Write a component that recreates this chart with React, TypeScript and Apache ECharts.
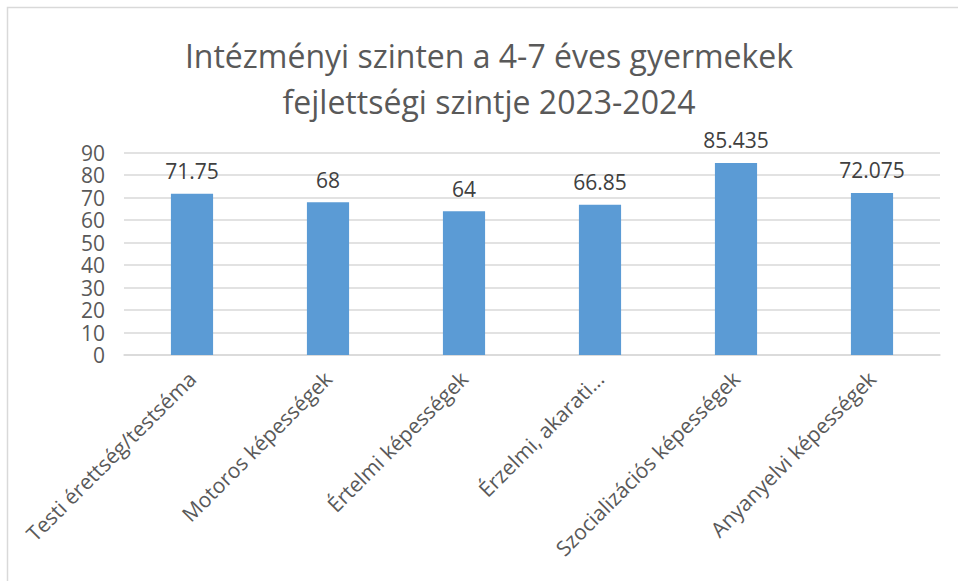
import React, { useEffect, useRef } from "react";
import * as echarts from "echarts";

const categories = [
  "Testi érettség/testséma",
  "Motoros képességek",
  "Értelmi képességek",
  "Érzelmi, akarati...",
  "Szocializációs képességek",
  "Anyanyelvi képességek",
];
const values = [71.75, 68, 64, 66.85, 85.435, 72.075];
const titleLines = ["Intézményi szinten a 4-7 éves gyermekek", "fejlettségi szintje 2023-2024"];
const yMin = 0;
const yMax = 90;
const yStep = 10;

const FONT = "'Open Sans', sans-serif";

export default function App() {
  const ref = useRef<HTMLDivElement>(null);
  useEffect(() => {
    document.body.style.margin = "0";
    document.body.style.overflow = "hidden";
    const chart = echarts.init(ref.current!, undefined, { renderer: "svg" });
    chart.setOption({
      animation: false,
      backgroundColor: "#ffffff",
      textStyle: { fontFamily: FONT },
      graphic: [
        {
          type: "rect",
          shape: { x: 7.5, y: 7.5, width: 1000, height: 1000 },
          style: { fill: "none", stroke: "#d9d9d9", lineWidth: 1.5 },
          silent: true,
        },
        {
          type: "text",
          x: 489,
          y: 78,
          style: {
            text: titleLines.join("\n"),
            textAlign: "center",
            textVerticalAlign: "middle",
            fontSize: 32,
            lineHeight: 46,
            fontFamily: FONT,
            fill: "#595959",
          },
        },
      ],
      grid: { left: 124, right: 18, top: 152.7, bottom: 226, containLabel: false },
      xAxis: {
        type: "category",
        data: categories,
        axisLine: { show: true, lineStyle: { color: "#d9d9d9", width: 1.5 } },
        axisTick: { show: false },
        axisLabel: {
          rotate: 45,
          interval: 0,
          margin: 20,
          fontSize: 21,
          color: "#595959",
          fontFamily: FONT,
        },
      },
      yAxis: {
        type: "value",
        min: yMin,
        max: yMax,
        interval: yStep,
        axisLine: { show: false },
        axisTick: { show: false },
        splitLine: { lineStyle: { color: "#d9d9d9", width: 1.5 } },
        axisLabel: { fontSize: 21, lineHeight: 20, color: "#595959", margin: 19, fontFamily: FONT },
      },
      series: [
        {
          type: "bar",
          data: values,
          barWidth: "31%",
          itemStyle: { color: "#5b9bd5" },
          label: {
            show: true,
            position: "top",
            distance: 12,
            fontSize: 21,
            color: "#404040",
            fontFamily: FONT,
          },
        },
      ],
    });
    return () => chart.dispose();
  }, []);
  return <div ref={ref} style={{ width: 958, height: 581, overflow: "hidden" }} />;
}
